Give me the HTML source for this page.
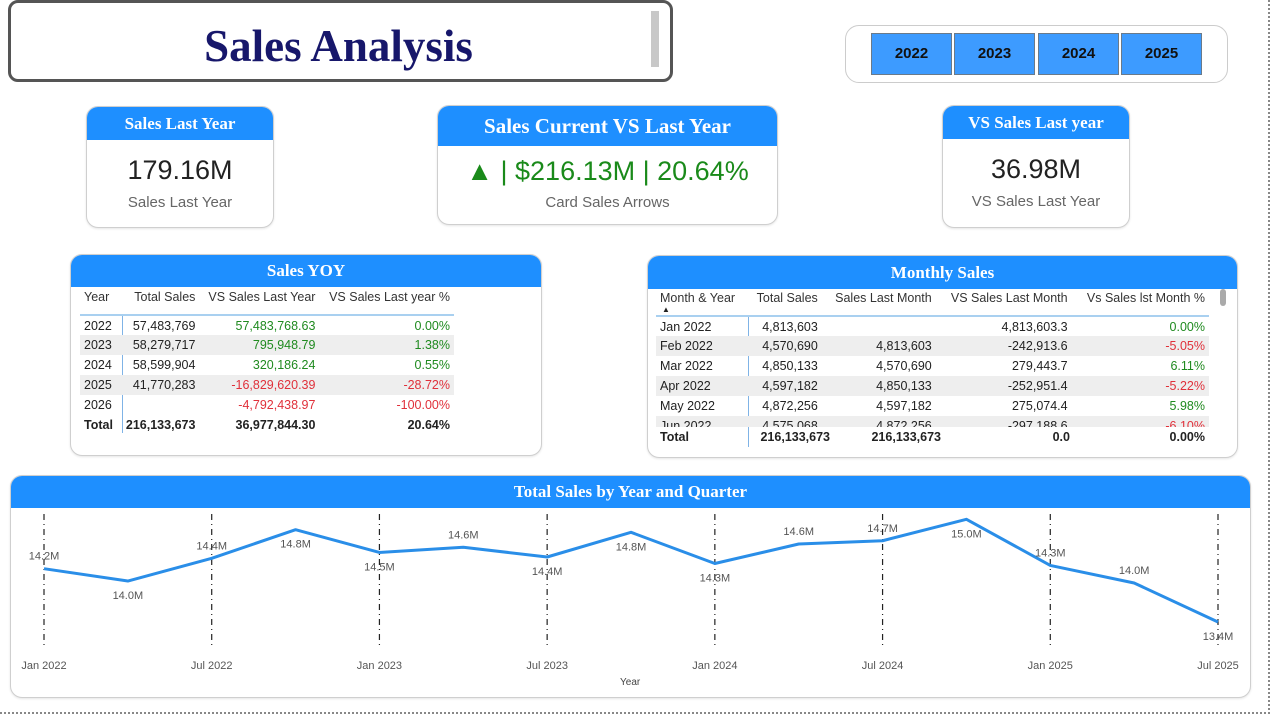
<!DOCTYPE html>
<html><head><meta charset="utf-8">
<style>
*{box-sizing:border-box;margin:0;padding:0}
body{width:1280px;height:720px;background:#fff;position:relative;overflow:hidden;font-family:"Liberation Sans",sans-serif;color:#222}
.abs{position:absolute}
.card{position:absolute;border:1px solid #cfcfcf;border-radius:12px;background:#fff;overflow:hidden;box-shadow:0 1px 2px rgba(0,0,0,.1)}
.hdr{background:#1e8fff;color:#fff;font-family:"Liberation Serif",serif;font-weight:bold;text-align:center}
.btn{position:absolute;top:33px;height:42px;width:81px;background:#3d9bff;border:1px solid #6a7a8a;font-weight:bold;font-size:15px;text-align:center;line-height:40px;color:#111}
table{border-collapse:collapse;font-size:12.5px;position:absolute}
td{height:20px;padding:0 4px;white-space:nowrap}
.g{color:#1f8a1f}.r{color:#e0303a}
.band td{background:#eeeeee}
.tot td{font-weight:bold}
</style></head><body>
<div class="abs" style="left:1268px;top:0;width:0;height:714px;border-left:2px dotted #888"></div>
<div class="abs" style="left:0;top:712px;width:1270px;height:0;border-top:2px dotted #888"></div>

<div class="abs" style="left:8px;top:0;width:665px;height:82px;border:3px solid #555;border-radius:10px;background:#fff">
  <div style="position:absolute;left:0;width:655px;top:17px;text-align:center;font-family:'Liberation Serif',serif;font-weight:bold;font-size:45px;color:#17176b">Sales Analysis</div>
  <div style="position:absolute;left:640px;top:8px;width:8px;height:56px;background:#c8c8c8"></div>
</div>

<div class="abs" style="left:845px;top:25px;width:383px;height:58px;border:1px solid #ccc;border-radius:14px"></div>
<div class="btn" style="left:871px">2022</div>
<div class="btn" style="left:954px">2023</div>
<div class="btn" style="left:1038px">2024</div>
<div class="btn" style="left:1121px">2025</div>

<div class="card" style="left:86px;top:106px;width:188px;height:122px">
  <div class="hdr" style="height:33px;font-size:17px;line-height:33px">Sales Last Year</div>
  <div style="text-align:center;font-size:27px;margin-top:15px">179.16M</div>
  <div style="text-align:center;font-size:15px;color:#666;margin-top:8px">Sales Last Year</div>
</div>
<div class="card" style="left:437px;top:105px;width:341px;height:120px">
  <div class="hdr" style="height:40px;font-size:21px;line-height:40px">Sales Current VS Last Year</div>
  <div style="text-align:center;font-size:27px;margin-top:10px;color:#1a8a1a">▲ | $216.13M | 20.64%</div>
  <div style="text-align:center;font-size:15px;color:#666;margin-top:7px">Card Sales Arrows</div>
</div>
<div class="card" style="left:942px;top:105px;width:188px;height:123px">
  <div class="hdr" style="height:33px;font-size:17px;line-height:33px">VS Sales Last year</div>
  <div style="text-align:center;font-size:27px;margin-top:15px">36.98M</div>
  <div style="text-align:center;font-size:15px;color:#666;margin-top:8px">VS Sales Last Year</div>
</div>

<div class="card" style="left:70px;top:254px;width:472px;height:202px">
  <div class="hdr" style="height:32px;font-size:17px;line-height:32px">Sales YOY</div>
</div>
<div class="abs" style="left:122px;top:316px;width:1px;height:117px;background:#7fb3e6"></div>
<table style="left:80px;top:287px;width:374px">
<tr style="color:#333"><td style="height:20px">Year</td><td style="text-align:right">Total Sales</td><td style="text-align:right">VS Sales Last Year</td><td style="text-align:right">VS Sales Last year %</td></tr>
<tr><td style="height:8px;border-bottom:2px solid #a9d0f0" colspan="4"></td></tr>
<tr><td>2022</td><td style="text-align:right">57,483,769</td><td class="g" style="text-align:right">57,483,768.63</td><td class="g" style="text-align:right">0.00%</td></tr>
<tr class="band"><td>2023</td><td style="text-align:right">58,279,717</td><td class="g" style="text-align:right">795,948.79</td><td class="g" style="text-align:right">1.38%</td></tr>
<tr><td>2024</td><td style="text-align:right">58,599,904</td><td class="g" style="text-align:right">320,186.24</td><td class="g" style="text-align:right">0.55%</td></tr>
<tr class="band"><td>2025</td><td style="text-align:right">41,770,283</td><td class="r" style="text-align:right">-16,829,620.39</td><td class="r" style="text-align:right">-28.72%</td></tr>
<tr><td>2026</td><td></td><td class="r" style="text-align:right">-4,792,438.97</td><td class="r" style="text-align:right">-100.00%</td></tr>
<tr class="tot"><td>Total</td><td style="text-align:right">216,133,673</td><td style="text-align:right">36,977,844.30</td><td style="text-align:right">20.64%</td></tr>
</table>

<div class="card" style="left:647px;top:255px;width:591px;height:203px">
  <div class="hdr" style="height:33px;font-size:17px;line-height:33px">Monthly Sales</div>
</div>
<div class="abs" style="left:1220px;top:289px;width:6px;height:17px;background:#aaa;border-radius:3px"></div>
<div class="abs" style="left:748px;top:317px;width:1px;height:130px;background:#7fb3e6"></div>
<div class="abs" style="left:662px;top:305px;font-size:8px">▲</div>
<div class="abs" style="left:656px;top:288px;width:553px;height:139px;overflow:hidden">
<table style="left:0;top:0;width:553px">
<tr style="color:#333"><td>Month &amp; Year</td><td style="text-align:right">Total Sales</td><td style="text-align:right">Sales Last Month</td><td style="text-align:right">VS Sales Last Month</td><td style="text-align:right">Vs Sales lst Month %</td></tr>
<tr><td style="height:8px;border-bottom:2px solid #a9d0f0" colspan="5"></td></tr>
<tr><td>Jan 2022</td><td style="text-align:right">4,813,603</td><td></td><td style="text-align:right">4,813,603.3</td><td class="g" style="text-align:right">0.00%</td></tr>
<tr class="band"><td>Feb 2022</td><td style="text-align:right">4,570,690</td><td style="text-align:right">4,813,603</td><td style="text-align:right">-242,913.6</td><td class="r" style="text-align:right">-5.05%</td></tr>
<tr><td>Mar 2022</td><td style="text-align:right">4,850,133</td><td style="text-align:right">4,570,690</td><td style="text-align:right">279,443.7</td><td class="g" style="text-align:right">6.11%</td></tr>
<tr class="band"><td>Apr 2022</td><td style="text-align:right">4,597,182</td><td style="text-align:right">4,850,133</td><td style="text-align:right">-252,951.4</td><td class="r" style="text-align:right">-5.22%</td></tr>
<tr><td>May 2022</td><td style="text-align:right">4,872,256</td><td style="text-align:right">4,597,182</td><td style="text-align:right">275,074.4</td><td class="g" style="text-align:right">5.98%</td></tr>
<tr class="band"><td>Jun 2022</td><td style="text-align:right">4,575,068</td><td style="text-align:right">4,872,256</td><td style="text-align:right">-297,188.6</td><td class="r" style="text-align:right">-6.10%</td></tr>
</table></div>
<table style="left:656px;top:427px;width:553px">
<tr class="tot"><td style="width:92px">Total</td><td style="text-align:right;width:86px">216,133,673</td><td style="text-align:right;width:111px">216,133,673</td><td style="text-align:right;width:129px">0.0</td><td style="text-align:right">0.00%</td></tr>
</table>

<div class="card" style="left:10px;top:475px;width:1241px;height:223px">
  <div class="hdr" style="height:32px;font-size:17px;line-height:32px">Total Sales by Year and Quarter</div>
</div>
<svg class="abs" style="left:0;top:0" width="1280" height="720" id="chart"></svg>
<div class="abs" style="left:620px;top:677px;font-size:10px;color:#444">Year</div>

<script>
const quarters = ["2022Q1","2022Q2","2022Q3","2022Q4","2023Q1","2023Q2","2023Q3","2023Q4","2024Q1","2024Q2","2024Q3","2024Q4","2025Q1","2025Q2","2025Q3"];
const salesM = [14.22,14.03,14.38,14.82,14.47,14.55,14.40,14.78,14.30,14.60,14.65,14.98,14.27,14.00,13.40];
const labels = ["14.2M","14.0M","14.4M","14.8M","14.5M","14.6M","14.4M","14.8M","14.3M","14.6M","14.7M","15.0M","14.3M","14.0M","13.4M"];
const labelAbove = [1,0,1,0,0,1,0,0,0,1,1,0,1,1,0];
const tickLabels = ["Jan 2022","Jul 2022","Jan 2023","Jul 2023","Jan 2024","Jul 2024","Jan 2025","Jul 2025"];
const tickIndex = [0,2,4,6,8,10,12,14];

const NS="http://www.w3.org/2000/svg";
const svg=document.getElementById('chart');
const x0=44,x1=1218,yTop=518,yBot=622,vMax=15.0,vMin=13.4;
function xs(i){return x0+(x1-x0)*i/(quarters.length-1);}
function ys(v){return yBot-(v-vMin)/(vMax-vMin)*(yBot-yTop);}
function mk(t,a){const e=document.createElementNS(NS,t);for(const k in a)e.setAttribute(k,a[k]);svg.appendChild(e);return e;}
tickIndex.forEach((qi,k)=>{
  const g=mk('line',{x1:xs(qi),x2:xs(qi),y1:514,y2:648,stroke:'#222','stroke-width':1.2,'stroke-dasharray':'6,4,1,4'});
  
  
  const t=mk('text',{x:xs(qi),y:669,'text-anchor':'middle','font-size':11,fill:'#555','font-family':'Liberation Sans, sans-serif'});
  t.textContent=tickLabels[k];
  
  
});
const pts=salesM.map((v,i)=>xs(i)+','+ys(v)).join(' ');
const line=mk('polyline',{points:pts,fill:'none',stroke:'#2a8ee8','stroke-width':3,'stroke-linejoin':'round'});


salesM.forEach((v,i)=>{
  const t=mk('text',{x:xs(i),y:labelAbove[i]?ys(v)-9:ys(v)+18,'text-anchor':'middle','font-size':11,fill:'#555','font-family':'Liberation Sans, sans-serif'});
  t.textContent=labels[i];
  
  
});
</script>
</body></html>
